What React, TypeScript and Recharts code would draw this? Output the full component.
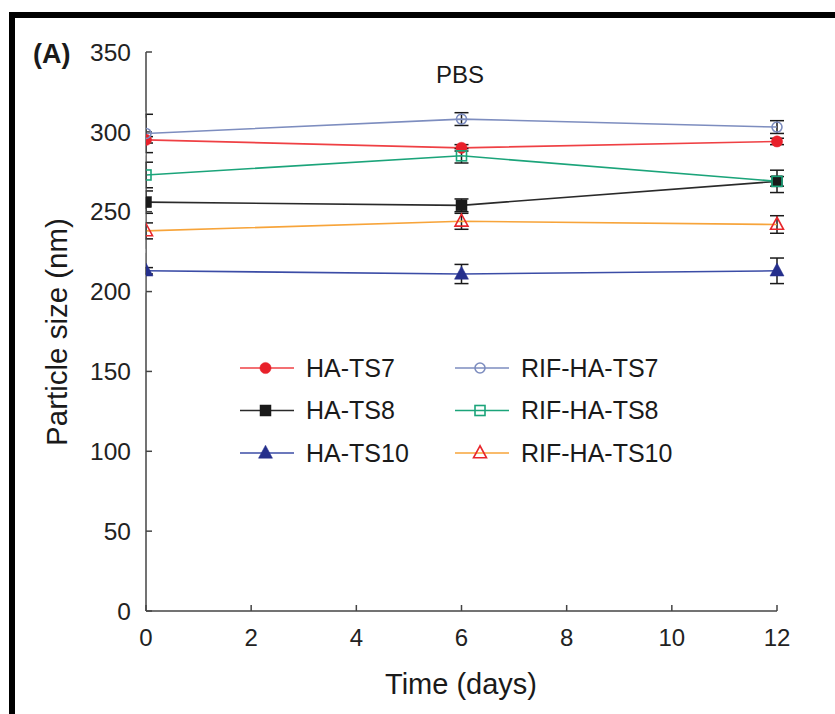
import React from "react";
import { LineChart, Line, XAxis, YAxis, ErrorBar, Legend } from "recharts";

// ---- data ----
const days = [0, 6, 12];
const xTicks = [0, 2, 4, 6, 8, 10, 12];
const yTicks = [0, 50, 100, 150, 200, 250, 300, 350];

const haTs7 = [295, 290, 294];
const haTs7Err = [2, 2, 2];
const haTs8 = [256, 254, 269];
const haTs8Err = [7, 4, 7];
const haTs10 = [213, 211, 213];
const haTs10Err = [2, 6, 8];
const rifHaTs7 = [299, 308, 303];
const rifHaTs7Err = [12, 4, 4];
const rifHaTs8 = [273, 285, 269];
const rifHaTs8Err = [8, 4.5, 3];
const rifHaTs10 = [238, 244, 242];
const rifHaTs10Err = [5, 5, 5.5];

const seriesNames = ["HA-TS7", "HA-TS8", "HA-TS10", "RIF-HA-TS7", "RIF-HA-TS8", "RIF-HA-TS10"];

const rows = days.map((d, i) => ({
  day: d,
  haTs7: haTs7[i], haTs7Err: haTs7Err[i],
  haTs8: haTs8[i], haTs8Err: haTs8Err[i],
  haTs10: haTs10[i], haTs10Err: haTs10Err[i],
  rifHaTs7: rifHaTs7[i], rifHaTs7Err: rifHaTs7Err[i],
  rifHaTs8: rifHaTs8[i], rifHaTs8Err: rifHaTs8Err[i],
  rifHaTs10: rifHaTs10[i], rifHaTs10Err: rifHaTs10Err[i],
}));

type Shape = "circle" | "square" | "triangle";
interface SeriesCfg { key: string; name: string; line: string; marker: string; shape: Shape; filled: boolean; }

const series: SeriesCfg[] = [
  { key: "haTs7", name: seriesNames[0], line: "#EF4044", marker: "#E8202A", shape: "circle", filled: true },
  { key: "haTs8", name: seriesNames[1], line: "#2a2a2a", marker: "#1a1a1a", shape: "square", filled: true },
  { key: "haTs10", name: seriesNames[2], line: "#3B4CA6", marker: "#252F8C", shape: "triangle", filled: true },
  { key: "rifHaTs7", name: seriesNames[3], line: "#7D8DBF", marker: "#7D8DBF", shape: "circle", filled: false },
  { key: "rifHaTs8", name: seriesNames[4], line: "#1BA47A", marker: "#1BA47A", shape: "square", filled: false },
  { key: "rifHaTs10", name: seriesNames[5], line: "#F7A43A", marker: "#E8262B", shape: "triangle", filled: false },
];

const FONT = "'Liberation Sans', Arial, Helvetica, sans-serif";

function Marker({ shape, cx, cy, color, filled }: { shape: Shape; cx: number; cy: number; color: string; filled: boolean }) {
  const fill = filled ? color : "none";
  const sw = filled ? 0.5 : 1.6;
  if (shape === "circle") {
    return <circle cx={cx} cy={cy} r={filled ? 5.6 : 5} fill={fill} stroke={color} strokeWidth={sw} />;
  }
  if (shape === "square") {
    const s = filled ? 11 : 10;
    return <rect x={cx - s / 2} y={cy - s / 2} width={s} height={s} fill={fill} stroke={color} strokeWidth={sw} />;
  }
  const w = filled ? 14 : 13;
  const h = filled ? 13 : 12;
  const pts = `${cx},${cy - h * 0.6} ${cx - w / 2},${cy + h * 0.4} ${cx + w / 2},${cy + h * 0.4}`;
  return <polygon points={pts} fill={fill} stroke={color} strokeWidth={sw} strokeLinejoin="miter" />;
}

function LegendContent() {
  const rowsY = [28, 70.5, 113];
  const cols = [{ l0: 10, l1: 64, m: 35.5, t: 76 }, { l0: 225, l1: 279, m: 250, t: 291 }];
  return (
    <svg width={470} height={140} style={{ display: "block" }}>
      {series.map((s, i) => {
        const c = cols[Math.floor(i / 3)];
        const y = rowsY[i % 3];
        return (
          <g key={s.key}>
            <line x1={c.l0} x2={c.l1} y1={y} y2={y} stroke={s.line} strokeWidth={1.6} />
            <Marker shape={s.shape} cx={c.m} cy={y} color={s.marker} filled={s.filled} />
            <text x={c.t} y={y + 8.5} fontSize={25} fontFamily={FONT} fill="#1a1a1a">{s.name}</text>
          </g>
        );
      })}
    </svg>
  );
}

function makeDot(s: SeriesCfg) {
  return (p: any) => {
    const k = `${s.key}-${p.index}`;
    if (p.cx == null || p.cy == null) return <g key={k} />;
    if (p.index === 0) {
      // the first point sits on the y axis: only its right half shows
      const id = `clip-${k}`;
      return (
        <g key={k}>
          <rect x={p.cx - 10} y={p.cy - 22} width={9.2} height={44} fill="#fff" />
          <defs>
            <clipPath id={id}>
              <rect x={p.cx} y={p.cy - 16} width={20} height={32} />
            </clipPath>
          </defs>
          <g clipPath={`url(#${id})`}>
            <Marker shape={s.shape} cx={p.cx} cy={p.cy} color={s.marker} filled={s.filled} />
          </g>
        </g>
      );
    }
    return (
      <g key={k}>
        <Marker shape={s.shape} cx={p.cx} cy={p.cy} color={s.marker} filled={s.filled} />
      </g>
    );
  };
}

export default function App() {
  return (
    <div style={{ position: "absolute", left: 0, top: 0, width: 835, height: 714, overflow: "hidden", background: "#fff" }}>
      <div style={{ position: "absolute", left: 9, top: 12, width: 900, height: 800, borderLeft: "6px solid #000", borderTop: "6px solid #000" }} />
      <div style={{ position: "absolute", left: 0, top: 0 }}>
        <LineChart width={835} height={714} data={rows} margin={{ top: 52, right: 58, bottom: 73, left: 0 }}>
          <XAxis
            dataKey="day"
            type="number"
            domain={[0, 12]}
            ticks={xTicks}
            axisLine={{ stroke: "#444", strokeWidth: 1.5 }}
            tickSize={-6}
            tickMargin={24}
            tickLine={{ stroke: "#444", strokeWidth: 1.5 }}
            tick={{ fontSize: 24, fill: "#222", fontFamily: FONT }}
            height={30}
          />
          <YAxis
            type="number"
            domain={[0, 350]}
            ticks={yTicks}
            width={146}
            tickSize={-6}
            tickMargin={21}
            axisLine={{ stroke: "#444", strokeWidth: 1.5 }}
            tickLine={{ stroke: "#444", strokeWidth: 1.5 }}
            tick={{ fontSize: 24.5, fill: "#222", fontFamily: FONT }}
          />
          {series.map((s) => (
            <Line
              key={s.key}
              dataKey={s.key}
              name={s.name}
              type="linear"
              stroke={s.line}
              strokeWidth={1.6}
              isAnimationActive={false}
              activeDot={false}
              dot={makeDot(s)}
            >
              <ErrorBar dataKey={`${s.key}Err`} width={7} stroke="#1a1a1a" strokeWidth={1.5} direction="y" />
            </Line>
          ))}
          <Legend
            layout="horizontal"
            verticalAlign="middle"
            align="center"
            wrapperStyle={{ position: "absolute", left: 230, top: 340, width: 470, height: 140 }}
            content={() => <LegendContent />}
          />
          <text x={33} y={63} fontSize={27} fontWeight="bold" fontFamily={FONT} fill="#1a1a1a">(A)</text>
          <text x={460} y={83} fontSize={24} textAnchor="middle" fontFamily={FONT} fill="#1a1a1a">PBS</text>
          <text x={461} y={694} fontSize={29} textAnchor="middle" fontFamily={FONT} fill="#1a1a1a">Time (days)</text>
          <text x={67} y={332} fontSize={29.5} textAnchor="middle" fontFamily={FONT} fill="#1a1a1a" transform="rotate(-90 67 332)">Particle size (nm)</text>
        </LineChart>
      </div>
    </div>
  );
}
